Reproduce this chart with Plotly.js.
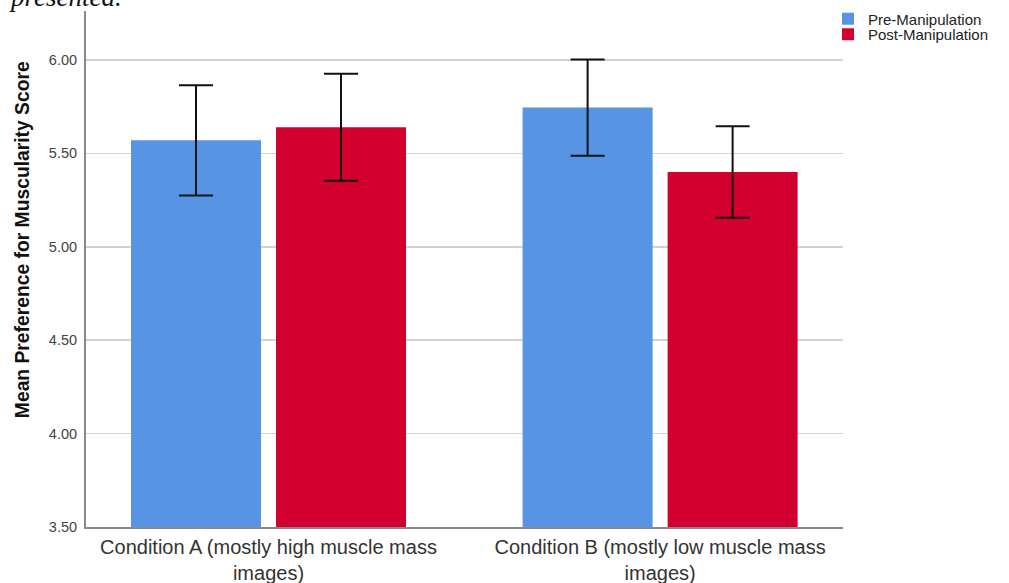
<!DOCTYPE html>
<html>
<head>
<meta charset="utf-8">
<script src="https://cdn.plot.ly/plotly-3.0.1.min.js"></script>
<style>
  html, body { margin: 0; padding: 0; background: #ffffff; }
  #chart { width: 1009px; height: 583px; }
</style>
</head>
<body>
<div id="chart"></div>
<script>
// Conditions on the x axis
const conditions = [
  "Condition A (mostly high muscle mass images)",
  "Condition B (mostly low muscle mass images)"
];
const conditionLabels = [
  "Condition A (mostly high muscle mass<br>images)",
  "Condition B (mostly low muscle mass<br>images)"
];

// Mean preference scores and error-bar half widths
const preMeans  = [5.57, 5.745];
const preError  = [0.295, 0.258];
const postMeans = [5.64, 5.40];
const postError = [0.286, 0.245];

// Y axis ticks
const yTicks = [3.5, 4.0, 4.5, 5.0, 5.5, 6.0];
const yTickLabels = ["3.50", "4.00", "4.50", "5.00", "5.50", "6.00"];

const FONT = "Liberation Sans, Arial, sans-serif";

const errStyle = { type: "data", visible: true, color: "#111111", thickness: 2, width: 17 };

const traces = [
  {
    type: "bar",
    name: "Pre-Manipulation",
    x: conditions,
    y: preMeans,
    marker: { color: "#5794E3" },
    error_y: Object.assign({ array: preError }, errStyle),
    legend: "legend",
    hoverinfo: "y+name"
  },
  {
    type: "bar",
    name: "Post-Manipulation",
    x: conditions,
    y: postMeans,
    marker: { color: "#D2002E" },
    error_y: Object.assign({ array: postError }, errStyle),
    legend: "legend2",
    hoverinfo: "y+name"
  }
];

// Each series gets its own legend box so the two rows can sit close together
const legendCommon = {
  xref: "container",
  yref: "container",
  xanchor: "left",
  yanchor: "middle",
  bgcolor: "rgba(0,0,0,0)",
  borderwidth: 0,
  font: { family: FONT, size: 15, color: "#222222" },
  itemwidth: 30,
  itemclick: false,
  itemdoubleclick: false
};

const layout = {
  width: 1009,
  height: 583,
  margin: { l: 86, r: 166, t: 11, b: 56, pad: 0, autoexpand: false },
  paper_bgcolor: "#ffffff",
  plot_bgcolor: "#ffffff",
  barmode: "group",
  bargap: 0.2594,
  bargroupgap: 0.1035,
  font: { family: FONT, color: "#333333" },
  xaxis: {
    type: "category",
    range: [-0.466, 1.467],
    tickvals: conditions,
    ticktext: conditionLabels,
    tickfont: { family: FONT, size: 20, color: "#333333" },
    ticks: "",
    ticklabelstandoff: 1,
    showgrid: false,
    showline: true,
    linecolor: "#8a8a8a",
    linewidth: 2,
    zeroline: false,
    fixedrange: true
  },
  yaxis: {
    range: [3.5, 6.262],
    tickvals: yTicks,
    ticktext: yTickLabels,
    tickfont: { family: FONT, size: 14.5, color: "#444444" },
    ticks: "",
    ticklabelstandoff: 4,
    showgrid: true,
    gridcolor: "#d2d2d2",
    gridwidth: 1.5,
    showline: true,
    linecolor: "#8a8a8a",
    linewidth: 2,
    zeroline: false,
    fixedrange: true
  },
  showlegend: true,
  legend: Object.assign({ x: 0.8206, y: 0.9674 }, legendCommon),
  legend2: Object.assign({ x: 0.8206, y: 0.9408 }, legendCommon),
  annotations: [
    {
      // vertical axis title
      text: "<b>Mean Preference for Muscularity Score</b>",
      xref: "paper", yref: "paper",
      x: -0.0845, y: 0.556,
      xanchor: "center", yanchor: "middle",
      textangle: -90,
      showarrow: false,
      font: { family: FONT, size: 19.3, color: "#111111" }
    },
    {
      // end of the preceding sentence in the document
      text: "<i>presented.</i>",
      xref: "paper", yref: "paper",
      x: -0.105, y: 1.027,
      xanchor: "left", yanchor: "middle",
      showarrow: false,
      font: { family: "Liberation Serif, Times New Roman, serif", size: 27, color: "#111111" }
    }
  ]
};

Plotly.newPlot("chart", traces, layout, { displayModeBar: false, staticPlot: true });
</script>
</body>
</html>
